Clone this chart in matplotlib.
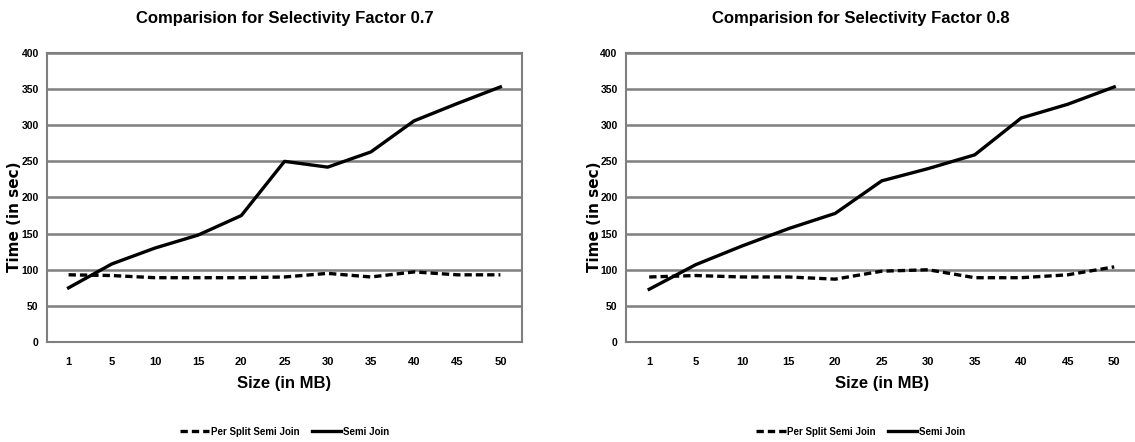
import matplotlib
matplotlib.use("Agg")
import matplotlib.pyplot as plt
import numpy as np

plt.rcParams['font.family'] = ['Liberation Sans', 'DejaVu Sans']

sizes = ['1', '5', '10', '15', '20', '25', '30', '35', '40', '45', '50']

# selectivity factor 0.7
per_split_07 = [93, 92, 89, 89, 89, 90, 95, 90, 97, 93, 93]
semi_join_07 = [75, 108, 130, 148, 175, 250, 242, 263, 306, 330, 353]

# selectivity factor 0.8
per_split_08 = [90, 92, 90, 90, 87, 98, 100, 89, 89, 93, 104]
semi_join_08 = [73, 107, 133, 157, 178, 223, 240, 259, 310, 329, 353]

yticks = [0, 50, 100, 150, 200, 250, 300, 350, 400]

fig = plt.figure(figsize=(11.35, 4.42), dpi=100)
ax1 = fig.add_axes([0.0414, 0.2262, 0.4185, 0.654])
ax2 = fig.add_axes([0.5515, 0.2262, 0.4507, 0.654])

panels = [(ax1, per_split_07, semi_join_07, 'Comparision for Selectivity Factor 0.7', 0.251, 0.0132, 0.5),
          (ax2, per_split_08, semi_join_08, 'Comparision for Selectivity Factor 0.8', 0.758, 0.524, 0.459)]

for ax, ps, sj, title, tx, ylx, legx in panels:
    x = np.arange(len(sizes))
    ax.plot(x, ps, color='black', lw=2.4, ls=(0, (2.2, 1.2)), label='Per Split Semi Join')
    ax.plot(x, sj, color='black', lw=2.4, label='Semi Join')
    ax.set_xlim(-0.5, len(sizes) - 0.5)
    ax.set_ylim(0, 400)
    ax.set_yticks(yticks)
    ax.set_xticks(x)
    ax.set_xticklabels(sizes, fontsize=8, fontweight='bold')
    for lab in ax.get_yticklabels():
        lab.set_fontsize(7.5)
        lab.set_fontweight('bold')
    ax.tick_params(length=0)
    ax.tick_params(axis='x', pad=11)
    ax.tick_params(axis='y', pad=6)
    ax.grid(axis='y', color='#7f7f7f', lw=1.8)
    ax.set_axisbelow(True)
    for s in ax.spines.values():
        s.set_color('#7f7f7f')
        s.set_linewidth(1.5)
    ax.set_xlabel('Size (in MB)', fontsize=12, fontweight='bold', labelpad=6)
    fig.text(tx, 0.958, title, ha='center', va='center', fontsize=12, fontweight='bold')
    fig.text(ylx, 0.509, 'Time (in sec)', rotation=90, ha='center', va='center',
             fontsize=11, fontweight='bold', family='DejaVu Sans')
    ax.legend(loc='center', bbox_to_anchor=(legx, -0.31), ncol=2, frameon=False,
              handlelength=3.0, handletextpad=0.2, columnspacing=1.2,
              prop={'weight': 'bold', 'size': 7})

fig.savefig('out.png', dpi=100)
